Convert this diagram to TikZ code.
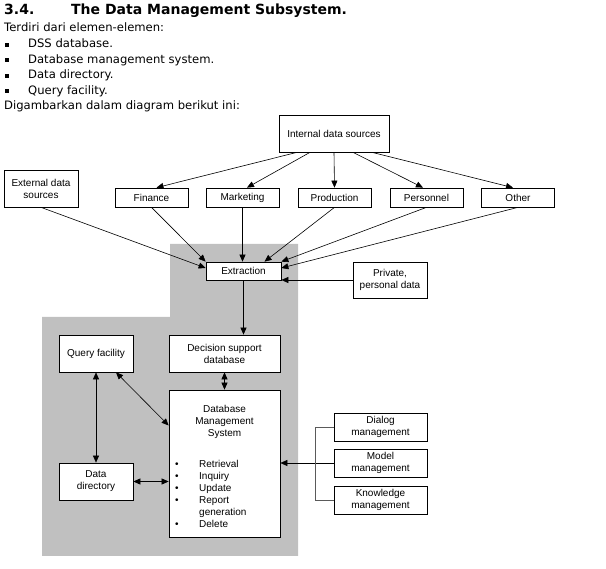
\documentclass[tikz,border=0pt]{standalone}
\usepackage{fontspec}
\setmainfont{DejaVu Sans}
\newfontfamily\arialfont{Liberation Sans}
\usetikzlibrary{arrows.meta,positioning,calc}
\definecolor{ink}{HTML}{000000}
\definecolor{areagrey}{HTML}{C0C0C0}
\definecolor{brace}{HTML}{5A5A5A}

\begin{document}
\begin{tikzpicture}[x=1pt,y=1pt,>={Triangle[length=7pt,width=6pt]},
  box/.style={draw=ink,fill=white,line width=0.7pt,align=center,inner sep=1pt,
              font=\arialfont\fontsize{10}{12}\selectfont},
  src/.style={box,minimum width=74pt,minimum height=37pt},
  dept/.style={box,minimum width=73pt,minimum height=19pt},
  mgmt/.style={box,minimum width=93pt,minimum height=28pt},
  inner/.style={inner sep=0pt,font=\arialfont\fontsize{10}{12}\selectfont},
  arr/.style={->,draw=ink,line width=0.6pt},
  both/.style={<->,draw=ink,line width=0.6pt},
  txt/.style={anchor=base west,inner sep=0pt,font=\fontsize{11.6}{14}\selectfont},
  head/.style={txt,font=\bfseries\fontsize{14}{16}\selectfont},
  sq/.style={fill=ink,minimum size=4pt,inner sep=0pt}]

  \useasboundingbox (0,0) rectangle (606,-569);
  % heading and list of elements
  \node[head] (num) at (4,-15) {3.4.};
  \node[head] (title) at (71,-15) {The Data Management Subsystem.};
  \node[txt] (intro) at (4,-32) {Terdiri dari elemen-elemen:};
  \foreach \entry [count=\k] in {DSS database.,Database management system.,Data directory.,Query facility.}{
     \node[sq] (bl\k) at (7,{-29.2-15.5*\k}) {};
     \node[txt] (it\k) at (28,{-32.5-15.5*\k}) {\entry};
  }
  \node[txt] (outro) at (4,-110) {Digambarkan dalam diagram berikut ini:};

  % grey area of the subsystem
  \fill[areagrey] (170,-244) -- (298,-244) -- (298,-556) -- (42,-556) -- (42,-317)
     -- (170,-317) -- cycle;

  % data sources
  \node[box,minimum width=110pt,minimum height=37pt] (ids) at (334,-133.5) {Internal data sources};
  \node[src] (ext) at (41,-188.5) {External data\\sources};
  \foreach \nm/\txt/\xx in {fin/Finance/151.5,mkt/Marketing/242.5,prod/Production/334.5,
                            pers/Personnel/426.5,oth/Other/518}
     \node[dept] (\nm) at (\xx,-197.5) {\txt};
  \node[box,minimum width=75pt,minimum height=18pt] (extr) at (243.5,-271) {Extraction};
  \node[src,minimum height=36pt] (priv) at (390,-280) {Private,\\personal data};

  % subsystem
  \node[src] (qf) at (96,-353.5) {Query facility};
  \node[box,minimum width=111pt,minimum height=37pt] (dsd) at (224.5,-353.5) {Decision support\\database};
  \node[box,minimum width=111pt,minimum height=147pt] (dbms) at (224.5,-463.5) {};
  \node[inner,align=center,anchor=north] (dbmsname) at (224.5,-405.5) {Database\\Management\\System};
  \node[inner,anchor=north west] (dbmsops) at (175,-458.6)
     {\begin{tabular}{@{}l@{\hspace{20.5pt}}l@{}}
        \textbullet & Retrieval\\
        \textbullet & Inquiry\\
        \textbullet & Update\\
        \textbullet & Report\\
                    & generation\\
        \textbullet & Delete
      \end{tabular}};
  \node[src] (dd) at (96,-481.5) {Data\\directory};
  \foreach \nm/\txt/\yy in {dlg/Dialog/-427,mdl/Model/-463,kno/Knowledge/-500}
     \node[mgmt] (\nm) at (380.5,\yy) {\txt\\management};

  % connectors
  \foreach \nm/\s/\t in {fin/-37/5,mkt/-24/4.5,prod/0/0,pers/19/-3.5,oth/38/-5}
     \draw[arr] ([xshift=\s]ids.south) -- ([xshift=\t]\nm.north);
  \draw[arr] (ext.south) -- ([yshift=3]extr.west);
  \draw[arr] (fin.south) -- (extr.north west);
  \draw[arr] (mkt.south) -- (mkt.south |- extr.north);
  \draw[arr] (prod.south) -- ([xshift=21]extr.north);
  \draw[arr] (pers.south) -- (extr.north east);
  \draw[arr] (oth.south) -- ([yshift=3]extr.east);
  \draw[arr] (priv.west) -- (priv.west -| extr.east);
  \draw[arr] (extr.south) -- (extr.south |- dsd.north);
  \draw[both] (dsd.south) -- (dbms.north);
  \draw[both] ([xshift=20]qf.south) -- ([yshift=38]dbms.west);
  \draw[both] (qf.south) -- (dd.north);
  \draw[both] (dd.east) -- (dd.east -| dbms.west);
  \draw[arr] (mdl.west) -- (mdl.west -| dbms.east);
  \draw[brace,line width=0.6pt] (dlg.west) -| ([xshift=-18]mdl.west) |- (kno.west);
\end{tikzpicture}
\end{document}
